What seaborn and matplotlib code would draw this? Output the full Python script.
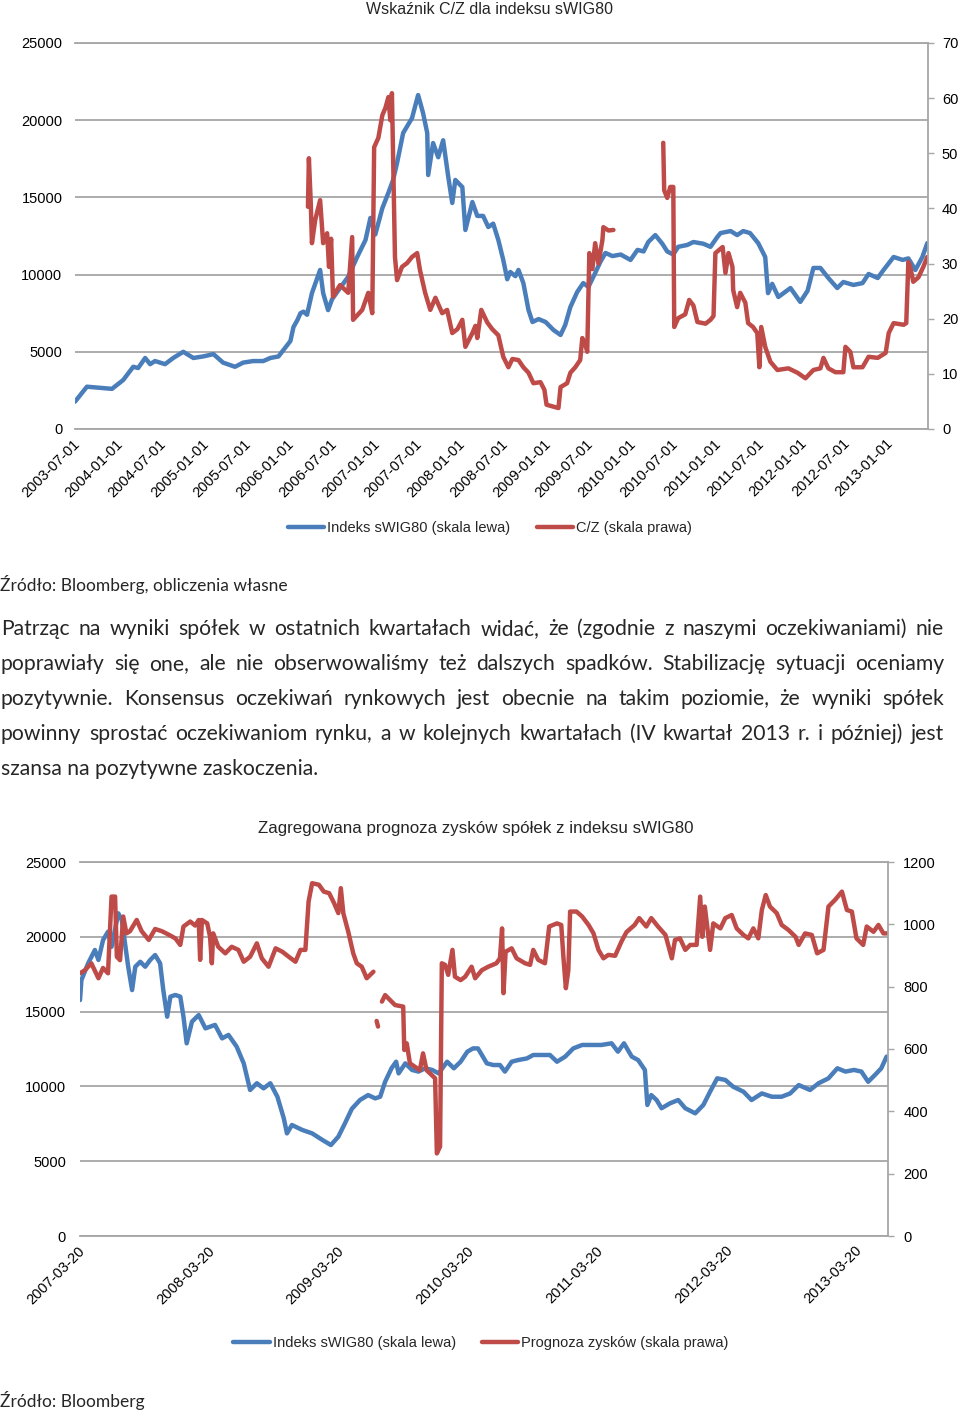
import pandas as pd
import matplotlib
matplotlib.use('Agg')
import matplotlib.pyplot as plt
from matplotlib.lines import Line2D
import seaborn as sns

sns.set_theme(style='white')
plt.rcParams['font.family'] = ['Liberation Sans', 'DejaVu Sans']

BLUE = '#4a7ebb'
RED = '#be4b48'
GRID = '#a6a6a6'

# ---------------- chart 1: Wskaźnik C/Z ----------------
idx1_dates = [
    '2003-06-18', '2003-08-08', '2003-10-16', '2003-11-23', '2004-01-10', '2004-02-22',
    '2004-03-14', '2004-04-13', '2004-05-04', '2004-05-25', '2004-07-07', '2004-08-11',
    '2004-09-23', '2004-11-05', '2004-12-17', '2005-01-30', '2005-03-12', '2005-05-02',
    '2005-06-06', '2005-07-18', '2005-08-31', '2005-09-30', '2005-11-04', '2005-12-25',
    '2006-01-07', '2006-01-24', '2006-02-06', '2006-02-19', '2006-03-06', '2006-03-27',
    '2006-05-01', '2006-05-14', '2006-06-04', '2006-06-21', '2006-07-25', '2006-08-29',
    '2006-10-07', '2006-11-11', '2006-12-02', '2006-12-23', '2007-01-22', '2007-02-17',
    '2007-03-09', '2007-03-26', '2007-04-21', '2007-05-29', '2007-06-24', '2007-07-15',
    '2007-08-02', '2007-08-06', '2007-08-27', '2007-09-18', '2007-10-09', '2007-10-31',
    '2007-11-17', '2007-11-30', '2007-12-30', '2008-01-12', '2008-02-11', '2008-03-03',
    '2008-03-28', '2008-04-19', '2008-05-10', '2008-06-01', '2008-06-22', '2008-07-09',
    '2008-07-22', '2008-08-13', '2008-08-26', '2008-09-16', '2008-10-08', '2008-10-25',
    '2008-11-20', '2008-12-20', '2009-01-23', '2009-02-22', '2009-03-14', '2009-04-05',
    '2009-05-04', '2009-05-30', '2009-06-21', '2009-07-20', '2009-08-11', '2009-09-02',
    '2009-10-02', '2009-11-06', '2009-12-18', '2010-01-17', '2010-02-12', '2010-03-04',
    '2010-04-03', '2010-05-03', '2010-05-24', '2010-06-19', '2010-07-10', '2010-08-18',
    '2010-09-13', '2010-10-25', '2010-11-25', '2010-12-24', '2011-01-07', '2011-02-19',
    '2011-03-19', '2011-04-14', '2011-05-13', '2011-06-17', '2011-07-17', '2011-07-29',
    '2011-08-16', '2011-09-11', '2011-11-02', '2011-12-14', '2012-01-14', '2012-02-08',
    '2012-03-09', '2012-04-12', '2012-05-20', '2012-06-15', '2012-07-28', '2012-09-05',
    '2012-10-01', '2012-11-09', '2012-12-04', '2013-01-16', '2013-02-24', '2013-03-20',
    '2013-04-19', '2013-05-19', '2013-06-09']
idx1_values = [
    1770, 2740, 2650, 2600, 3170, 4030,
    3950, 4600, 4200, 4400, 4200, 4600,
    5000, 4600, 4700, 4850, 4300, 4030,
    4300, 4400, 4400, 4600, 4700, 5700,
    6600, 7060, 7500, 7600, 7400, 8800,
    10300, 8800, 7700, 8400, 9130, 9860,
    11160, 12240, 13670, 12600, 14300, 15300,
    16130, 17230, 19170, 20140, 21630, 20470,
    19170, 16450, 18520, 17600, 18700, 16320,
    14640, 16130, 15670, 12890, 14700, 13800,
    13800, 13080, 13300, 12240, 10950, 9700,
    10170, 9900, 10300, 9450, 7700, 6930,
    7120, 6930, 6410, 6090, 6740, 7900,
    8870, 9450, 9200, 10100, 10820, 11400,
    11200, 11300, 10950, 11600, 11500, 12110,
    12560, 12000, 11500, 11300, 11800, 11920,
    12110, 12000, 11800, 12430, 12690, 12820,
    12560, 12820, 12690, 12040, 11140, 8800,
    9400, 8550, 9130, 8230, 8950, 10430,
    10430, 9780, 9130, 9520, 9330, 9450,
    10040, 9780, 10300, 11140, 10950, 11050,
    10300, 11140, 12040]

pe_dates = [
    '2006-03-10', '2006-03-14', '2006-03-22', '2006-03-27', '2006-04-10', '2006-05-01',
    '2006-05-14', '2006-05-31', '2006-06-08', '2006-06-17', '2006-06-25', '2006-07-25',
    '2006-08-29', '2006-09-15', '2006-09-19', '2006-10-28', '2006-11-23', '2006-12-10',
    '2006-12-18', '2007-01-05', '2007-01-22', '2007-02-04', '2007-02-17', '2007-02-25',
    '2007-03-04', '2007-03-17', '2007-03-26', '2007-04-16', '2007-05-08', '2007-05-29',
    '2007-06-20', '2007-07-02', '2007-07-24', '2007-08-15', '2007-09-06', '2007-10-05',
    '2007-10-26', '2007-11-17', '2007-12-09', '2007-12-30', '2008-01-12', '2008-02-11',
    '2008-02-24', '2008-03-03', '2008-03-20', '2008-04-15', '2008-05-06', '2008-06-01',
    '2008-06-22', '2008-07-14', '2008-07-31', '2008-08-26', '2008-09-16', '2008-10-08',
    '2008-10-29', '2008-11-28', '2008-12-15', '2008-12-24', '2009-02-13', '2009-02-22',
    '2009-03-22', '2009-04-05', '2009-04-26', '2009-05-17', '2009-05-26', '2009-06-08',
    '2009-06-16', '2009-06-25', '2009-07-08', '2009-07-20', '2009-08-03', '2009-08-20',
    '2009-08-24', '2009-09-15', '2009-10-06', '2010-01-01', '2010-05-07', '2010-05-11',
    '2010-05-24', '2010-06-06', '2010-06-19', '2010-06-23', '2010-07-10', '2010-08-09',
    '2010-08-26', '2010-09-13', '2010-09-30', '2010-11-04', '2010-11-25', '2010-12-08',
    '2010-12-16', '2011-01-16', '2011-01-28', '2011-02-10', '2011-02-27', '2011-03-02',
    '2011-03-19', '2011-04-01', '2011-04-23', '2011-05-05', '2011-05-26', '2011-06-13',
    '2011-06-22', '2011-06-30', '2011-07-17', '2011-08-08', '2011-09-07', '2011-10-24',
    '2011-12-02', '2012-01-05', '2012-02-08', '2012-03-09', '2012-03-22', '2012-04-12',
    '2012-05-12', '2012-06-15', '2012-06-24', '2012-07-15', '2012-07-28', '2012-09-05',
    '2012-10-01', '2012-11-09', '2012-12-13', '2012-12-26', '2013-01-16', '2013-02-28',
    '2013-03-11', '2013-03-20', '2013-03-28', '2013-04-10', '2013-05-02', '2013-05-23',
    '2013-06-09']
pe_values = [
    40.3, 49.1, 41.0, 33.7, 37.9, 41.5,
    33.7, 35.5, 29.4, 34.5, 24.0, 26.1,
    24.7, 34.8, 19.8, 21.6, 24.7, 21.0,
    51.1, 52.8, 56.9, 58.2, 60.2, 56.0,
    60.9, 31.2, 27.0, 29.4, 30.1, 31.2,
    31.9, 28.8, 24.7, 21.6, 23.8, 21.0,
    21.6, 17.4, 18.1, 19.8, 14.9, 17.4,
    18.7, 16.5, 21.6, 19.3, 18.1, 17.0,
    13.1, 11.2, 12.7, 12.5, 11.2, 10.2,
    8.3, 8.5, 7.1, 4.4, 3.8, 7.6,
    8.3, 10.2, 11.2, 12.5, 16.5, 15.3,
    14.0, 31.9, 29.0, 33.7, 30.0, 34.3,
    36.6, 36.0, 36.1, None, 51.9, 43.3,
    41.9, 43.9, 43.9, 18.5, 20.1, 20.8,
    23.4, 22.4, 19.4, 19.1, 19.8, 20.5,
    31.9, 33.0, 28.3, 31.9, 29.4, 25.2,
    22.1, 24.7, 22.9, 19.2, 18.5, 17.4,
    11.2, 18.5, 14.9, 12.2, 10.7, 11.0,
    10.2, 9.2, 10.7, 11.0, 12.9, 11.0,
    10.3, 10.3, 14.9, 14.0, 11.2, 11.2,
    13.1, 12.9, 13.8, 17.4, 19.2, 18.9,
    19.2, 30.3, 29.4, 26.7, 27.5, 29.4,
    31.2]

ticks1 = ['2003-07-01', '2004-01-01', '2004-07-01', '2005-01-01', '2005-07-01',
          '2006-01-01', '2006-07-01', '2007-01-01', '2007-07-01', '2008-01-01',
          '2008-07-01', '2009-01-01', '2009-07-01', '2010-01-01', '2010-07-01',
          '2011-01-01', '2011-07-01', '2012-01-01', '2012-07-01', '2013-01-01']

# ---------------- chart 2: prognoza zysków ----------------
idx2_dates = [
    '2007-03-12', '2007-03-16', '2007-04-04', '2007-04-23', '2007-05-03', '2007-05-16',
    '2007-05-30', '2007-06-09', '2007-06-28', '2007-07-08', '2007-07-17', '2007-07-26',
    '2007-08-06', '2007-08-15', '2007-08-29', '2007-09-12', '2007-09-26', '2007-10-10',
    '2007-10-24', '2007-11-02', '2007-11-13', '2007-11-22', '2007-12-06', '2007-12-20',
    '2007-12-29', '2008-01-07', '2008-01-22', '2008-02-10', '2008-02-29', '2008-03-27',
    '2008-04-16', '2008-05-04', '2008-05-27', '2008-06-16', '2008-07-04', '2008-07-23',
    '2008-08-11', '2008-08-30', '2008-09-19', '2008-10-07', '2008-10-16', '2008-10-30',
    '2008-11-28', '2008-12-26', '2009-01-24', '2009-02-17', '2009-03-10', '2009-03-28',
    '2009-04-17', '2009-05-10', '2009-06-02', '2009-06-22', '2009-07-06', '2009-07-20',
    '2009-08-07', '2009-08-20', '2009-08-27', '2009-09-15', '2009-10-04', '2009-10-22',
    '2009-11-10', '2009-11-30', '2009-12-18', '2010-01-11', '2010-01-30', '2010-02-18',
    '2010-03-09', '2010-03-25', '2010-04-08', '2010-04-19', '2010-05-03', '2010-05-21',
    '2010-06-09', '2010-06-23', '2010-07-12', '2010-07-30', '2010-08-24', '2010-09-11',
    '2010-10-05', '2010-10-28', '2010-11-17', '2010-12-10', '2011-01-02', '2011-01-27',
    '2011-02-24', '2011-03-22', '2011-04-20', '2011-05-08', '2011-05-25', '2011-06-16',
    '2011-07-04', '2011-07-23', '2011-07-30', '2011-08-10', '2011-08-25', '2011-09-08',
    '2011-10-02', '2011-10-25', '2011-11-14', '2011-12-12', '2012-01-04', '2012-01-23',
    '2012-02-12', '2012-03-06', '2012-03-28', '2012-04-26', '2012-05-19', '2012-06-17',
    '2012-07-15', '2012-08-12', '2012-09-05', '2012-09-29', '2012-10-31', '2012-11-24',
    '2012-12-22', '2013-01-16', '2013-02-08', '2013-03-04', '2013-03-25', '2013-04-13',
    '2013-05-02', '2013-05-20', '2013-06-04']
idx2_values = [
    15770, 17110, 18230, 19120, 18450, 19780,
    20340, 19330, 21570, 21120, 19560, 18000,
    16440, 18000, 18330, 18000, 18450, 18780,
    18230, 16440, 14660, 16000, 16110, 16000,
    14660, 12880, 14330, 14770, 13880, 14110,
    13210, 13440, 12660, 11540, 9760, 10210,
    9870, 10210, 9310, 7870, 6860, 7420,
    7090, 6860, 6420, 6080, 6640, 7500,
    8500, 9090, 9420, 9200, 9310, 10310,
    11210, 11650, 10870, 11540, 11100, 10990,
    11210, 11100, 10870, 11650, 11210, 11650,
    12320, 12540, 12540, 12100, 11540, 11430,
    11430, 10990, 11650, 11760, 11870, 12100,
    12100, 12100, 11650, 11990, 12540, 12770,
    12770, 12770, 12880, 12320, 12880, 11990,
    11760, 11100, 8760, 9420, 9090, 8540,
    8870, 9090, 8540, 8200, 8760, 9650,
    10540, 10430, 9980, 9650, 9090, 9530,
    9310, 9310, 9530, 10090, 9760, 10210,
    10540, 11210, 10990, 11100, 10990, 10310,
    10760, 11210, 11990]

eps_dates = [
    '2007-03-12', '2007-03-26', '2007-04-13', '2007-05-03', '2007-05-16', '2007-05-30',
    '2007-06-09', '2007-06-19', '2007-06-24', '2007-07-03', '2007-07-12', '2007-07-21',
    '2007-07-31', '2007-08-19', '2007-09-02', '2007-09-22', '2007-10-10', '2007-10-29',
    '2007-11-17', '2007-12-06', '2007-12-20', '2007-12-29', '2008-01-17', '2008-01-31',
    '2008-02-10', '2008-02-14', '2008-02-19', '2008-03-05', '2008-03-13', '2008-03-18',
    '2008-03-22', '2008-04-05', '2008-04-25', '2008-05-13', '2008-06-01', '2008-06-16',
    '2008-07-04', '2008-07-23', '2008-08-06', '2008-08-25', '2008-09-14', '2008-10-03',
    '2008-10-21', '2008-11-09', '2008-11-23', '2008-12-07', '2008-12-16', '2008-12-26',
    '2009-01-14', '2009-01-28', '2009-02-12', '2009-02-26', '2009-03-10', '2009-03-17',
    '2009-03-24', '2009-04-07', '2009-04-21', '2009-05-01', '2009-05-15', '2009-05-29',
    '2009-06-17', '2009-06-22', '2009-06-26', '2009-06-30', '2009-07-04', '2009-07-11',
    '2009-07-20', '2009-08-03', '2009-08-17', '2009-09-09', '2009-09-12', '2009-09-19',
    '2009-09-28', '2009-10-12', '2009-10-26', '2009-11-04', '2009-11-14', '2009-11-28',
    '2009-12-08', '2009-12-13', '2009-12-22', '2009-12-27', '2010-01-05', '2010-01-14',
    '2010-01-26', '2010-02-02', '2010-02-18', '2010-03-03', '2010-03-21', '2010-03-31',
    '2010-04-19', '2010-05-07', '2010-05-30', '2010-06-09', '2010-06-15', '2010-06-19',
    '2010-06-25', '2010-07-12', '2010-07-26', '2010-08-19', '2010-09-02', '2010-09-11',
    '2010-09-25', '2010-10-14', '2010-10-26', '2010-11-17', '2010-11-29', '2010-12-05',
    '2010-12-12', '2010-12-19', '2010-12-24', '2011-01-11', '2011-01-27', '2011-02-14',
    '2011-02-28', '2011-03-14', '2011-03-28', '2011-04-11', '2011-04-30', '2011-05-18',
    '2011-06-01', '2011-06-24', '2011-07-07', '2011-07-27', '2011-08-10', '2011-08-29',
    '2011-09-19', '2011-10-07', '2011-10-16', '2011-10-30', '2011-11-14', '2011-11-28',
    '2011-12-16', '2011-12-26', '2012-01-01', '2012-01-08', '2012-01-23', '2012-02-01',
    '2012-02-21', '2012-03-06', '2012-03-24', '2012-04-07', '2012-04-26', '2012-05-10',
    '2012-05-24', '2012-06-07', '2012-06-17', '2012-06-28', '2012-07-10', '2012-07-29',
    '2012-08-12', '2012-08-31', '2012-09-20', '2012-09-29', '2012-10-17', '2012-11-05',
    '2012-11-20', '2012-12-08', '2012-12-22', '2013-01-10', '2013-01-29', '2013-02-12',
    '2013-02-26', '2013-03-11', '2013-03-30', '2013-04-09', '2013-04-28', '2013-05-12',
    '2013-05-26', '2013-06-04']
eps_values = [
    843, 853, 875, 827, 860, 843,
    1089, 1089, 896, 885, 1025, 971,
    978, 1014, 978, 950, 985, 978,
    967, 955, 934, 993, 1009, 996,
    1014, 886, 1014, 1003, 960, 875,
    971, 928, 907, 928, 918, 880,
    896, 939, 891, 864, 923, 912,
    896, 880, 918, 918, 1073, 1132,
    1127, 1105, 1100, 1068, 1036, 1116,
    1036, 976, 907, 875, 864, 827,
    848, None, 690, 672, None, 752,
    773, 757, 741, 736, 597, 618,
    554, 543, 532, 586, 532, 517,
    506, 265, 287, 875, 870, 838,
    918, 832, 821, 832, 864, 827,
    853, 864, 875, 891, 987, 779,
    912, 923, 891, 875, 870, 918,
    886, 875, 993, 1003, 998, 896,
    795, 853, 1041, 1041, 1025, 998,
    971, 918, 891, 902, 899, 945,
    975, 998, 1020, 993, 1020, 993,
    966, 891, 950, 955, 918, 934,
    934, 1089, 960, 1057, 918, 1003,
    987, 1020, 1030, 987, 966, 955,
    987, 955, 1046, 1094, 1057, 1036,
    998, 982, 960, 934, 971, 966,
    907, 918, 1057, 1079, 1105, 1046,
    1041, 955, 934, 993, 976, 998,
    971, 971]

ticks2 = ['2007-03-20', '2008-03-20', '2009-03-20', '2010-03-20',
          '2011-03-20', '2012-03-20', '2013-03-20']

para = [
    'Patrząc na wyniki spółek w ostatnich kwartałach widać, że (zgodnie z naszymi oczekiwaniami) nie',
    'poprawiały się one, ale nie obserwowaliśmy też dalszych spadków. Stabilizację sytuacji oceniamy',
    'pozytywnie. Konsensus oczekiwań rynkowych jest obecnie na takim poziomie, że wyniki spółek',
    'powinny sprostać oczekiwaniom rynku, a w kolejnych kwartałach (IV kwartał 2013 r. i później) jest',
    'szansa na pozytywne zaskoczenia.',
]

W, H = 960, 1412
fig = plt.figure(figsize=(W / 100, H / 100), dpi=100)


def frame(dates, values):
    df = pd.DataFrame({'date': pd.to_datetime(dates), 'value': pd.array(values, dtype='Float64')})
    df['value'] = df['value'].astype(float)
    df['seg'] = df['value'].isna().cumsum()
    return df.dropna()


def px_rect(x0, x1, ytop, ybot):
    return [x0 / W, 1 - ybot / H, (x1 - x0) / W, (ybot - ytop) / H]


def draw_chart(rect, left, right, lmax, rmax, rstep, xlim, ticks, lpad, rpad):
    ax = fig.add_axes(rect)
    sns.lineplot(data=left, x='date', y='value', units='seg', estimator=None,
                 color=BLUE, lw=3.2, ax=ax)
    ax2 = ax.twinx()
    sns.lineplot(data=right, x='date', y='value', units='seg', estimator=None,
                 color=RED, lw=3.2, ax=ax2)

    ax.set_xlim(pd.to_datetime(xlim[0]), pd.to_datetime(xlim[1]))
    ax.set_ylim(0, lmax)
    ax2.set_ylim(0, rmax)
    ax.set_yticks(range(0, lmax + 1, 5000))
    ax2.set_yticks(range(0, rmax + 1, rstep))
    ax.set_xticks(pd.to_datetime(ticks))
    ax.set_xticklabels(ticks, rotation=45, ha='right', va='center',
                       rotation_mode='anchor', fontsize=10.5)
    for a in (ax, ax2):
        a.set_xlabel('')
        a.set_ylabel('')
        for s in a.spines.values():
            s.set_visible(False)
    for side in ('bottom', 'top'):
        ax.spines[side].set_visible(True)
        ax.spines[side].set_color(GRID)
        ax.spines[side].set_linewidth(1.3)
    ax2.spines['right'].set_visible(True)
    ax2.spines['right'].set_color(GRID)
    ax2.spines['right'].set_linewidth(1.3)
    ax.yaxis.grid(True, color=GRID, lw=1.3)
    ax.xaxis.grid(False)
    ax.tick_params(axis='y', length=0, pad=lpad, labelsize=10.5, colors='black')
    ax.tick_params(axis='x', length=0, pad=9, colors='black')
    ax2.tick_params(axis='y', length=4, width=1, color=GRID, direction='out',
                    pad=rpad, labelsize=10.5, labelcolor='black')
    return ax, ax2


draw_chart(px_rect(75, 928, 43, 429), frame(idx1_dates, idx1_values), frame(pe_dates, pe_values),
           25000, 70, 10, ('2003-06-18', '2013-06-12'), ticks1, 9, 6)
fig.text(490 / W, 1 - 9 / H, 'Wskaźnik C/Z dla indeksu sWIG80', ha='center', va='center', fontsize=11.5)
fig.legend(handles=[Line2D([], [], color=BLUE, lw=3.2), Line2D([], [], color=RED, lw=3.2)],
           labels=['Indeks sWIG80 (skala lewa)', 'C/Z (skala prawa)'],
           loc='center', bbox_to_anchor=(490 / W, 1 - 528 / H), ncol=2, frameon=False,
           fontsize=10.5, handlelength=2.5, handletextpad=0.2, columnspacing=1.8)

draw_chart(px_rect(80, 888, 862, 1236), frame(idx2_dates, idx2_values), frame(eps_dates, eps_values),
           25000, 1200, 200, ('2007-03-12', '2013-06-08'), ticks2, 10, 7)
fig.text(476 / W, 1 - 828 / H, 'Zagregowana prognoza zysków spółek z indeksu sWIG80',
         ha='center', va='center', fontsize=12.2)
fig.legend(handles=[Line2D([], [], color=BLUE, lw=3.2), Line2D([], [], color=RED, lw=3.2)],
           labels=['Indeks sWIG80 (skala lewa)', 'Prognoza zysków (skala prawa)'],
           loc='center', bbox_to_anchor=(481 / W, 1 - 1343 / H), ncol=2, frameon=False,
           fontsize=10.5, handlelength=2.5, handletextpad=0.2, columnspacing=1.8)

# ---------------- text ----------------
BODY = ['Lato', 'DejaVu Sans']
fig.text(0, 1 - 585 / H, 'Źródło: Bloomberg, obliczenia własne', family=BODY, fontsize=12.5, va='center')
fig.text(0, 1 - 1400 / H, 'Źródło: Bloomberg', family=BODY, fontsize=12.5, va='center')

renderer = fig.canvas.get_renderer()
x_left, x_right = 1, 944
for i, line in enumerate(para):
    y = 1 - (629 + i * 35) / H
    if i == len(para) - 1:
        fig.text(x_left / W, y, line, family=BODY, fontsize=15.2, va='center')
        continue
    words = line.split(' ')
    texts = [fig.text(0, y, w, family=BODY, fontsize=15.2, va='center') for w in words]
    widths = [t.get_window_extent(renderer).width for t in texts]
    gap = (x_right - x_left - sum(widths)) / (len(words) - 1)
    x = x_left
    for t, w in zip(texts, widths):
        t.set_x(x / W)
        x += w + gap

fig.savefig('out.png', dpi=100)
